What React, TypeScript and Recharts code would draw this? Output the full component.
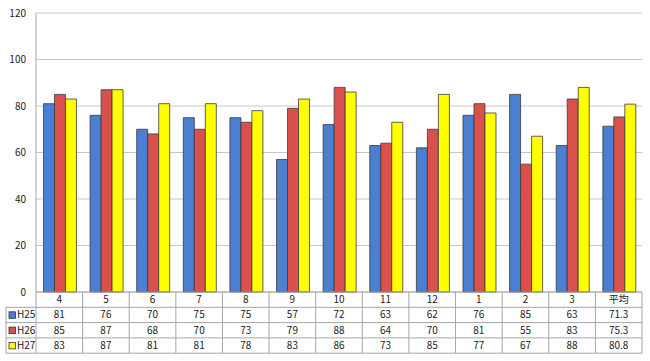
import React from "react";
import { BarChart, Bar, XAxis, YAxis, CartesianGrid } from "recharts";

const months = ["4", "5", "6", "7", "8", "9", "10", "11", "12", "1", "2", "3", "平均"];
const h25 = [81, 76, 70, 75, 75, 57, 72, 63, 62, 76, 85, 63, 71.3];
const h26 = [85, 87, 68, 70, 73, 79, 88, 64, 70, 81, 55, 83, 75.3];
const h27 = [83, 87, 81, 81, 78, 83, 86, 73, 85, 77, 67, 88, 80.8];
const yTicks = [0, 20, 40, 60, 80, 100, 120];

const SERIES = [
  { key: "H25", values: h25, color: "#4a7fd1" },
  { key: "H26", values: h26, color: "#d9504c" },
  { key: "H27", values: h27, color: "#ffff00" },
];

const data = months.map((m, i) => ({ month: m, H25: h25[i], H26: h26[i], H27: h27[i] }));

const W = 650;
const H = 361;
const LEFT = 36;
const RIGHT = 8;
const TOP = 13;
const BOTTOM = 69;
const ROW_H = 15.3;
const LINE = "#a6a6a6";
const FONT = "'Noto Sans CJK JP', 'Noto Sans', sans-serif";

function fmt(v: number) {
  return Number.isInteger(v) ? String(v) : v.toFixed(1);
}

function TableTick(props: any) {
  const { x, payload, index, width, visibleTicksCount } = props;
  const count = visibleTicksCount || months.length;
  const band = (width || W - LEFT - RIGHT) / count;
  const top = TOP + (H - TOP - BOTTOM);
  const left = x - band / 2;
  const right = x + band / 2;
  const rows = [payload.value, ...SERIES.map((s) => fmt(s.values[index]))];
  return (
    <g>
      {/* column right border */}
      <line x1={right} y1={top} x2={right} y2={top + ROW_H * 4} stroke={LINE} />
      {index === 0 && <line x1={left} y1={top} x2={left} y2={top + ROW_H * 4} stroke={LINE} />}
      {[1, 2, 3, 4].map((r) => (
        <line key={r} x1={left} y1={top + ROW_H * r} x2={right} y2={top + ROW_H * r} stroke={LINE} />
      ))}
      {rows.map((t, r) => (
        <text
          key={r}
          x={x}
          y={top + ROW_H * r + ROW_H / 2 + 3.5}
          textAnchor="middle"
          fontSize={10}
          fill="#222"
          fontFamily={FONT}
        >
          {t}
        </text>
      ))}
      {index === 0 && (
        <g>
          <line x1={6} y1={top + ROW_H} x2={left} y2={top + ROW_H} stroke={LINE} />
          <line x1={6} y1={top + ROW_H} x2={6} y2={top + ROW_H * 4} stroke={LINE} />
          {SERIES.map((s, r) => {
            const ry = top + ROW_H * (r + 1);
            return (
              <g key={s.key}>
                <line x1={6} y1={ry + ROW_H} x2={left} y2={ry + ROW_H} stroke={LINE} />
                <rect x={9} y={ry + 4.5} width={6.5} height={6.5} fill={s.color} stroke="#333" strokeWidth={0.8} />
                <text x={17} y={ry + ROW_H / 2 + 3.5} fontSize={10} fill="#222" fontFamily={FONT}>
                  {s.key}
                </text>
              </g>
            );
          })}
        </g>
      )}
    </g>
  );
}

export default function App() {
  return (
    <div style={{ position: "fixed", left: 0, top: 0, width: W, height: H, background: "#fff" }}>
      <BarChart
        width={W}
        height={H}
        data={data}
        margin={{ top: TOP, right: RIGHT, left: 0, bottom: 0 }}
        barCategoryGap="16%"
        barGap={0}
      >
        <CartesianGrid vertical={false} stroke="#c8c8c8" />
        <XAxis
          dataKey="month"
          height={BOTTOM}
          tickLine={false}
          axisLine={{ stroke: LINE }}
          tick={<TableTick />}
          interval={0}
        />
        <YAxis
          width={LEFT}
          domain={[0, 120]}
          ticks={yTicks}
          tickLine={false}
          axisLine={{ stroke: LINE }}
          tick={{ fontSize: 10, fill: "#222", fontFamily: FONT }}
          tickMargin={4}
        />
        {SERIES.map((s) => (
          <Bar
            key={s.key}
            dataKey={s.key}
            fill={s.color}
            stroke="#3a3a3a"
            strokeWidth={0.8}
            isAnimationActive={false}
          />
        ))}
      </BarChart>
    </div>
  );
}
